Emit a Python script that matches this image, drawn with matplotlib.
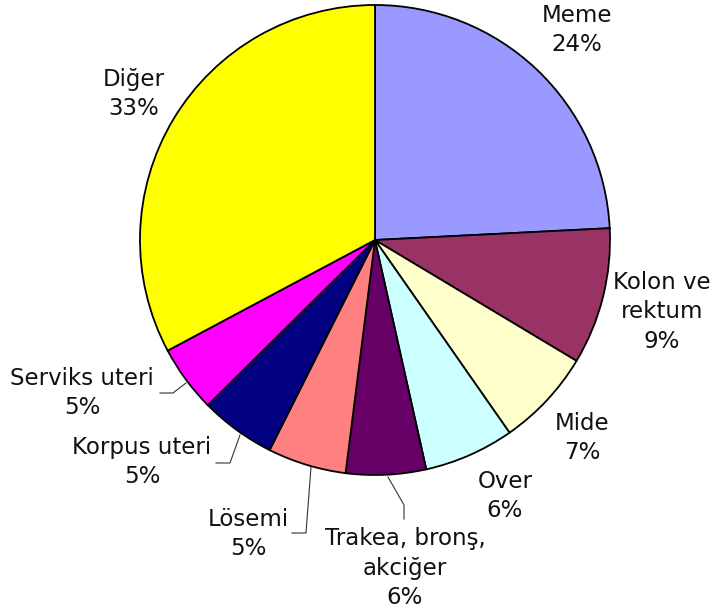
import matplotlib
matplotlib.use("Agg")
import matplotlib.pyplot as plt

# slice shares (clockwise from 12 o'clock)
labels = ["Meme", "Kolon ve\nrektum", "Mide", "Over", "Trakea, bronş,\nakciğer",
          "Lösemi", "Korpus uteri", "Serviks uteri", "Diğer"]
shares = [24.2, 9.4, 6.7, 6.2, 5.5, 5.4, 5.2, 4.6, 32.8]
colors = ["#9999FF", "#993366", "#FFFFCC", "#CCFFFF", "#660066",
          "#FF8080", "#000080", "#FF00FF", "#FFFF00"]

W, H = 715, 616
fig = plt.figure(figsize=(W / 100, H / 100), dpi=100)
ax = fig.add_axes([0, 0, 1, 1])

cx, cy, r = 375, H - 240, 235
ax.pie(shares, colors=colors, startangle=90, counterclock=False,
       center=(cx, cy), radius=r, frame=True,
       wedgeprops=dict(edgecolor="black", linewidth=1.3))
ax.set_xlim(0, W)
ax.set_ylim(0, H)
ax.set_aspect("equal")
ax.axis("off")

# label centres in pixel coords (y from top)
label_pos = [(577, 30), (662, 312), (582, 438), (505, 496), (405, 568),
             (248, 534), (142, 462), (82, 393), (134, 94)]
for name, val, (x, y) in zip(labels, shares, label_pos):
    ax.text(x, H - y, f"{name}\n{round(val)}%", ha="center", va="center",
            fontsize=16.5, linespacing=1.38, color="#111111")

# leader lines (pixel coords, y from top)
leaders = [
    [(186, 383), (173, 393), (160, 393)],
    [(240, 435), (230, 463), (216, 463)],
    [(311, 467), (306, 533), (292, 533)],
    [(388, 477), (404, 505), (404, 519)],
]
for pts in leaders:
    xs = [p[0] for p in pts]
    ys = [H - p[1] for p in pts]
    ax.plot(xs, ys, color="#333333", lw=0.8)

fig.savefig("out.png", dpi=100)
